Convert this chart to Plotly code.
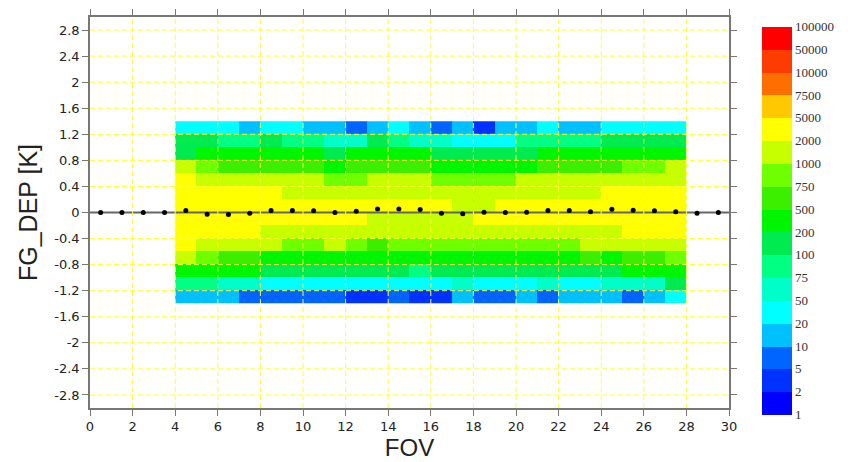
import numpy as np
import plotly.graph_objects as go

# ---- data -------------------------------------------------------------
# FOV bin edges (data occupy FOV 4..28) and first-guess departure bin edges [K]
fov_edges = [4, 5, 6, 7, 8, 9, 10, 11, 12, 13, 14, 15, 16, 17, 18, 19, 20,
             21, 22, 23, 24, 25, 26, 27, 28]
dep_edges = [-1.4, -1.2, -1.0, -0.8, -0.6, -0.4, -0.2, 0.0,
             0.2, 0.4, 0.6, 0.8, 1.0, 1.2, 1.4]

# observation counts per departure bin (rows, lowest bin first) and FOV (columns)
counts = [
    [15, 15, 15, 7, 7, 7, 7, 7, 3, 3, 7, 3, 3, 15, 7, 7, 15, 7, 15, 15, 15, 7, 15, 35],
    [85, 85, 60, 60, 35, 35, 35, 35, 35, 35, 35, 35, 35, 60, 35, 35, 35, 60, 35, 35, 60, 60, 60, 150],
    [350, 350, 350, 350, 150, 150, 150, 150, 150, 150, 150, 85, 150, 150, 150, 150, 150, 150, 150, 150, 150, 350, 350, 350],
    [1500, 850, 600, 600, 350, 350, 350, 350, 350, 350, 350, 350, 350, 350, 350, 350, 350, 350, 350, 600, 350, 600, 600, 850],
    [3000, 1500, 1500, 1500, 1500, 850, 850, 1500, 850, 600, 850, 850, 850, 850, 850, 850, 850, 850, 850, 1500, 1500, 1500, 1500, 1500],
    [3000, 3000, 3000, 3000, 1500, 1500, 1500, 1500, 1500, 1500, 1500, 1500, 1500, 1500, 1500, 1500, 1500, 1500, 1500, 1500, 1500, 3000, 3000, 3000],
    [3000, 3000, 3000, 3000, 3000, 3000, 3000, 3000, 3000, 1500, 1500, 1500, 1500, 1500, 3000, 3000, 3000, 3000, 3000, 3000, 3000, 3000, 3000, 3000],
    [3000, 3000, 3000, 3000, 3000, 3000, 3000, 3000, 3000, 3000, 3000, 3000, 3000, 1500, 1500, 3000, 3000, 3000, 3000, 3000, 3000, 3000, 3000, 3000],
    [3000, 3000, 3000, 3000, 3000, 1500, 1500, 1500, 1500, 1500, 1500, 1500, 1500, 1500, 1500, 1500, 1500, 1500, 1500, 1500, 3000, 3000, 3000, 3000],
    [3000, 1500, 1500, 1500, 1500, 1500, 1500, 850, 850, 1500, 1500, 1500, 850, 850, 850, 850, 1500, 1500, 1500, 1500, 1500, 1500, 1500, 1500],
    [1500, 850, 600, 600, 600, 600, 600, 350, 600, 600, 600, 600, 350, 350, 350, 350, 350, 600, 600, 600, 600, 850, 850, 1500],
    [150, 350, 350, 350, 350, 350, 350, 150, 350, 350, 350, 350, 150, 150, 150, 150, 150, 350, 350, 350, 350, 350, 350, 350],
    [150, 150, 85, 85, 150, 85, 85, 60, 60, 150, 85, 60, 60, 35, 35, 35, 85, 85, 85, 85, 150, 150, 150, 150],
    [35, 35, 35, 15, 35, 35, 15, 15, 7, 15, 35, 15, 7, 15, 3, 15, 15, 35, 15, 15, 35, 35, 35, 35],
]

# mean first-guess departure for every FOV 0..29 [K]
fov = [0, 1, 2, 3, 4, 5, 6, 7, 8, 9, 10, 11, 12, 13, 14, 15, 16, 17, 18, 19,
       20, 21, 22, 23, 24, 25, 26, 27, 28, 29]
mean_dep = [0.0, 0.0, 0.0, 0.0, 0.03, -0.025, -0.03, -0.01, 0.03, 0.03,
            0.025, 0.0, 0.02, 0.055, 0.055, 0.045, -0.01, -0.02, 0.005, 0.0,
            0.005, 0.03, 0.03, 0.01, 0.05, 0.035, 0.025, 0.01, -0.01, 0.0]

# count class limits of the colour key and the colour of each class
levels = [1, 2, 5, 10, 20, 50, 75, 100, 200, 500, 750, 1000, 2000, 5000,
          7500, 10000, 50000, 100000]
level_colors = ["#0000ff", "#0032ff", "#0064ff", "#00c0ff", "#00ffff",
                "#00ffc8", "#00ff82", "#00eb50", "#00f500", "#3cee00",
                "#6eff00", "#c8ff00", "#ffff00", "#ffc800", "#ff6e00",
                "#ff3c00", "#ff0000"]

# axis ticks
x_ticks = [0, 2, 4, 6, 8, 10, 12, 14, 16, 18, 20, 22, 24, 26, 28, 30]
y_ticks = [-2.8, -2.4, -2.0, -1.6, -1.2, -0.8, -0.4, 0.0,
           0.4, 0.8, 1.2, 1.6, 2.0, 2.4, 2.8]
x_range = [0, 30]
y_range = [-3, 3]

# ---- figure -----------------------------------------------------------
n_cls = len(level_colors)
colorscale = []
for i, c in enumerate(level_colors):
    colorscale.append([i / n_cls, c])
    colorscale.append([(i + 1) / n_cls, c])

cnt = np.array(counts, dtype=float)
cls = np.searchsorted(levels, cnt, side="right") - 1
z = cls + 0.5

fig = go.Figure()

fig.add_trace(go.Heatmap(
    x=fov_edges, y=dep_edges, z=z,
    customdata=cnt,
    zmin=0, zmax=n_cls,
    colorscale=colorscale,
    hovertemplate="FOV %{x}<br>FG DEP %{y} K<br>count %{customdata}<extra></extra>",
    colorbar=dict(
        thickness=30, thicknessmode="pixels",
        len=388, lenmode="pixels",
        x=1.0516, xanchor="left", xpad=0,
        y=0.9755, yanchor="top", ypad=0,
        outlinewidth=0,
        tickmode="array",
        tickvals=list(range(len(levels))),
        ticktext=[str(v) for v in levels],
        ticks="",
        tickfont=dict(family="Liberation Serif, DejaVu Serif, serif", size=13, color="#333333"),
    ),
))

# zero reference line across the full FOV range
fig.add_trace(go.Scatter(
    x=x_range, y=[0, 0], mode="lines",
    line=dict(color="#666666", width=2),
    hoverinfo="skip", showlegend=False,
))

# per-FOV mean departure
fig.add_trace(go.Scatter(
    x=[f + 0.5 for f in fov], y=mean_dep, mode="markers",
    marker=dict(color="black", size=5),
    showlegend=False,
    hovertemplate="FOV %{x}<br>mean %{y:.3f} K<extra></extra>",
))

# dashed yellow grid drawn over the histogram
grid = dict(color="#ffff33", width=1, dash="5px,3px")
shapes = []
for xv in x_ticks[1:-1]:
    shapes.append(dict(type="line", xref="x", yref="y", layer="above",
                       x0=xv, x1=xv, y0=y_range[0], y1=y_range[1], line=grid))
for yv in y_ticks:
    if yv == 0:
        continue
    shapes.append(dict(type="line", xref="x", yref="y", layer="above",
                       x0=x_range[0], x1=x_range[1], y0=yv, y1=yv, line=grid))

axis_common = dict(
    showline=True, linecolor="#777777", linewidth=1.5, mirror="ticks",
    ticks="outside", ticklen=6, tickcolor="#777777", tickwidth=1,
    showgrid=False, zeroline=False,
    tickfont=dict(family="DejaVu Sans", size=13, color="#222222"),
)

fig.update_layout(
    width=856, height=462, autosize=False,
    margin=dict(l=90, r=127, t=9, b=45, pad=0),
    paper_bgcolor="white", plot_bgcolor="white",
    showlegend=False,
    shapes=shapes,
    xaxis=dict(
        range=x_range, tickmode="array", tickvals=x_ticks,
        ticktext=[str(v) for v in x_ticks],
        title=dict(text="FOV", font=dict(family="Liberation Sans", size=24, color="#222222"),
                   standoff=2),
        **axis_common,
    ),
    yaxis=dict(
        range=y_range, tickmode="array", tickvals=y_ticks,
        ticktext=[f"{v:g}" for v in y_ticks],
        title=dict(text="FG_DEP [K]", font=dict(family="Liberation Sans", size=25, color="#222222"),
                   standoff=10),
        **axis_common,
    ),
)

fig.write_html("out.html")
